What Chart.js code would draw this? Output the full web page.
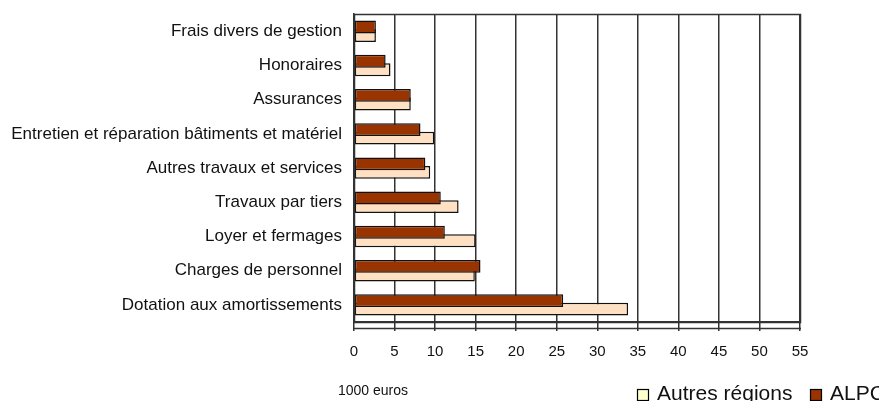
<!DOCTYPE html>
<html>
<head>
<meta charset="utf-8">
<script src="https://cdn.jsdelivr.net/npm/chart.js@4.4.1/dist/chart.umd.min.js"></script>
<style>
  html, body { margin: 0; padding: 0; background: #fff; }
  #wrap { width: 879px; height: 401px; }
</style>
</head>
<body>
<div id="wrap"><canvas id="c"></canvas></div>
<script>
// ── Charges par poste (1000 euros) ──────────────────────────────────────────
const categories = [
  'Frais divers de gestion',
  'Honoraires',
  'Assurances',
  'Entretien et réparation bâtiments et matériel',
  'Autres travaux et services',
  'Travaux par tiers',
  'Loyer et fermages',
  'Charges de personnel',
  'Dotation aux amortissements',
];
const alpc   = [2.7, 3.9, 7.0, 8.2, 8.8, 10.7, 11.2, 15.6, 25.8];
const autres = [2.7, 4.5, 7.0, 9.9, 9.4, 12.9, 15.0, 14.9, 33.8];
const xTicks = [0, 5, 10, 15, 20, 25, 30, 35, 40, 45, 50, 55];

const FONT = '"Liberation Sans", Arial, sans-serif';

// plot frame, second axis rule, unit note and legend (legend box colours as in the original)
const framePlugin = {
  id: 'frame',
  afterDraw(chart) {
    const { ctx, chartArea: a } = chart;
    ctx.save();
    ctx.strokeStyle = '#333';
    ctx.lineWidth = 1.5;
    ctx.strokeRect(Math.round(a.left) + 0.5, Math.round(a.top) + 0.5,
                   Math.round(a.right - a.left), Math.round(a.bottom - a.top));
    // axis rule just below the plot
    const yr = Math.round(a.bottom) + 6.5;
    ctx.beginPath();
    ctx.moveTo(Math.round(a.left), yr);
    ctx.lineTo(Math.round(a.right) + 1, yr);
    ctx.stroke();

    ctx.fillStyle = '#111';
    ctx.font = '14px ' + FONT;
    ctx.textBaseline = 'alphabetic';
    ctx.fillText('1000 euros', 338, 395);

    // legend
    const items = [
      { text: 'Autres régions', box: '#FFFFCC', x: 637 },
      { text: 'ALPC',           box: '#993300', x: 810 },
    ];
    ctx.font = '21px ' + FONT;
    ctx.lineWidth = 1.2;
    items.forEach(it => {
      ctx.fillStyle = it.box;
      ctx.fillRect(it.x + 0.5, 389.5, 11, 11);
      ctx.strokeStyle = '#000';
      ctx.strokeRect(it.x + 0.5, 389.5, 11, 11);
      ctx.fillStyle = '#111';
      ctx.fillText(it.text, it.x + 20, 400);
    });
    ctx.restore();
  },
};

new Chart(document.getElementById('c'), {
  type: 'bar',
  data: {
    labels: categories,
    datasets: [
      { label: 'ALPC', data: alpc, backgroundColor: '#993300',
        borderColor: '#111', borderWidth: 1.5, borderSkipped: false },
      { label: 'Autres régions', data: autres, backgroundColor: '#FFE0C2',
        borderColor: '#111', borderWidth: 1.5, borderSkipped: false },
    ],
  },
  plugins: [framePlugin],
  options: {
    indexAxis: 'y',
    responsive: true,
    maintainAspectRatio: false,
    animation: false,
    categoryPercentage: 0.5,
    barPercentage: 1.5,
    layout: { padding: { top: 9, right: 79, bottom: 39, left: 0 } },
    plugins: {
      legend: { display: false },
      tooltip: { enabled: false },
    },
    scales: {
      x: {
        min: 0,
        max: 55,
        afterBuildTicks: s => { s.ticks = xTicks.map(v => ({ value: v })); },
        afterFit: s => { s.height = 40; },
        grid: { color: '#333', lineWidth: 1.5, tickLength: 9 },
        border: { color: '#333', width: 1.5 },
        ticks: { font: { family: FONT, size: 15 }, color: '#111', padding: 12 },
      },
      y: {
        afterFit: s => { s.width = 354; },
        grid: { display: false },
        border: { color: '#333', width: 1.5 },
        ticks: { font: { family: FONT, size: 17 }, color: '#111', padding: 4 },
      },
    },
  },
});
</script>
</body>
</html>
